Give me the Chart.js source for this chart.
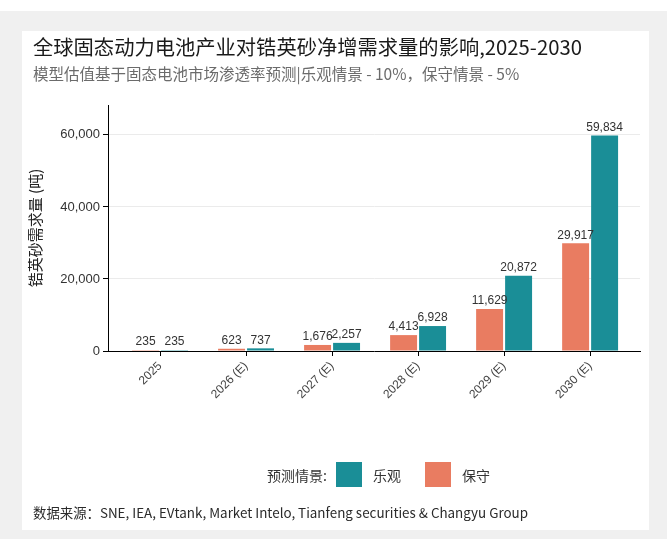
<!DOCTYPE html>
<html>
<head>
<meta charset="utf-8">
<script src="https://cdn.jsdelivr.net/npm/chart.js@4.4.1/dist/chart.umd.min.js"></script>
<style>
  html, body { margin: 0; padding: 0; }
  body {
    width: 667px; height: 539px; position: relative; overflow: hidden;
    background: #f0f0f0; font-family: "Noto Sans CJK SC", "Noto Sans", sans-serif;
  }
  #topstrip { position: absolute; left: 0; top: 0; width: 667px; height: 11px; background: #fff; }
  #card { position: absolute; left: 22px; top: 31px; width: 627px; height: 499px; background: #fff; }
  #chart { position: absolute; left: 0; top: 0; }
  .txt { position: absolute; white-space: nowrap; }
  #title { left: 33px; top: 31px; font-size: 20.3px; color: #1a1a1a; }
  #subtitle { left: 33px; top: 62px; font-size: 15.5px; color: #6b6b6b; }
  #source { left: 33px; top: 502px; font-size: 13.4px; color: #2a2a2a; }
  #legend { left: 267px; top: 462px; height: 25px; font-size: 14px; color: #333; display: flex; align-items: center; }
  #legend .box { width: 26px; height: 25px; display: inline-block; }
</style>
</head>
<body>
<div id="topstrip"></div>
<div id="card"></div>
<canvas id="chart" width="667" height="539"></canvas>
<div class="txt" id="title">全球固态动力电池产业对锆英砂净增需求量的影响,2025-2030</div>
<div class="txt" id="subtitle">模型估值基于固态电池市场渗透率预测|乐观情景 - 10%，保守情景 - 5%</div>
<div class="txt" id="legend"></div>
<div class="txt" id="source">数据来源：SNE, IEA, EVtank, Market Intelo, Tianfeng securities &amp; Changyu Group</div>
<script>
const categories = ['2025', '2026 (E)', '2027 (E)', '2028 (E)', '2029 (E)', '2030 (E)'];
const conservative = [235, 623, 1676, 4413, 11629, 29917];
const optimistic = [235, 737, 2257, 6928, 20872, 59834];
const yTicks = [0, 20000, 40000, 60000];

const TEAL = '#1a8e97';
const ORANGE = '#e97c61';

// legend (teal first, like the original)
const legendItems = [['乐观', TEAL], ['保守', ORANGE]];
const legend = document.getElementById('legend');
legend.innerHTML = '<span style="margin-right:9px">预测情景:</span>' +
  legendItems.map(([name, c]) =>
    `<span class="box" style="background:${c}"></span><span style="margin:0 24px 0 11px">${name}</span>`
  ).join('');

const fmt = v => v.toLocaleString('en-US');

// value labels above bars
const barLabels = {
  id: 'barLabels',
  afterDatasetsDraw(chart) {
    const ctx = chart.ctx;
    ctx.save();
    ctx.font = '12px "Liberation Sans", Arial, sans-serif';
    ctx.fillStyle = '#333';
    ctx.textAlign = 'center';
    ctx.textBaseline = 'bottom';
    chart.data.datasets.forEach((ds, i) => {
      chart.getDatasetMeta(i).data.forEach((bar, j) => {
        ctx.fillText(fmt(ds.data[j].y), bar.x, bar.y - 2);
      });
    });
    ctx.restore();
  }
};

const toPoints = arr => arr.map((v, i) => ({ x: i, y: v }));

new Chart(document.getElementById('chart'), {
  type: 'bar',
  data: {
    datasets: [
      { label: '保守', data: toPoints(conservative), backgroundColor: ORANGE },
      { label: '乐观', data: toPoints(optimistic), backgroundColor: TEAL }
    ]
  },
  options: {
    responsive: false,
    animation: false,
    categoryPercentage: 0.674,
    barPercentage: 0.93,
    layout: { padding: { left: 22, right: 27, top: 105, bottom: 128 } },
    plugins: { legend: { display: false }, tooltip: { enabled: false } },
    scales: {
      x: {
        type: 'linear',
        offset: false,
        min: -0.605,
        max: 5.58,
        afterBuildTicks: s => { s.ticks = categories.map((_, i) => ({ value: i })); },
        afterFit: s => { s.height = 60; },
        border: { color: '#000', width: 1 },
        grid: { drawOnChartArea: false, offset: false, tickLength: 5, tickColor: '#000' },
        ticks: {
          maxRotation: 45, minRotation: 45, padding: 3,
          color: '#444', font: { family: '"Liberation Sans", Arial, sans-serif', size: 12 },
          callback: v => categories[v]
        }
      },
      y: {
        min: 0,
        max: 68300,
        afterBuildTicks: s => { s.ticks = yTicks.map(v => ({ value: v })); },
        afterFit: s => { s.width = 86; },
        border: { color: '#000', width: 1 },
        grid: { color: '#ebebeb', tickLength: 5, tickColor: '#000' },
        ticks: {
          padding: 3, color: '#333',
          font: { family: '"Liberation Sans", Arial, sans-serif', size: 13 },
          callback: v => fmt(v)
        },
        title: {
          display: true, text: '锆英砂需求量 (吨)', color: '#222',
          padding: { top: 4, bottom: 0 },
          font: { family: '"Noto Sans CJK SC", sans-serif', size: 15 }
        }
      }
    }
  },
  plugins: [barLabels]
});
</script>
</body>
</html>
